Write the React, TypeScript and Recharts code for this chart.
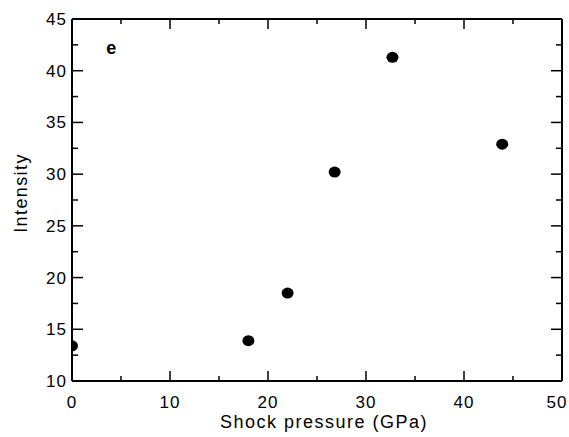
import React from "react";
import {
  ScatterChart,
  Scatter,
  XAxis,
  YAxis,
  ReferenceDot,
} from "recharts";

const pressure = [0, 18, 22, 26.8, 32.7, 43.9];
const intensity = [13.4, 13.9, 18.5, 30.2, 41.3, 32.9];
const xTicks = [0, 5, 10, 15, 20, 25, 30, 35, 40, 45, 50];
const yTicks = [10, 12.5, 15, 17.5, 20, 22.5, 25, 27.5, 30, 32.5, 35, 37.5, 40, 42.5, 45];
const panelLabel = "e";

const data = pressure.map((p, i) => ({ p, v: intensity[i] }));

const FONT = "'Liberation Sans', Arial, Helvetica, sans-serif";

// inward ticks, labels only on the major ones
const BottomTick = (props: any) => {
  const { x, y, payload } = props;
  const major = payload.value % 10 === 0;
  // the last label sits a bit left so it stays inside the frame
  const shift = payload.value === 50 ? -5 : 0;
  return (
    <g>
      <line x1={x} y1={y} x2={x} y2={y - (major ? 10 : 5)} stroke="#000" strokeWidth={1.5} />
      {major && (
        <text x={x + shift} y={y + 27} textAnchor="middle" fontSize={17} letterSpacing={1} fontFamily={FONT} fill="#000">
          {payload.value}
        </text>
      )}
    </g>
  );
};

const TopTick = (props: any) => {
  const { x, y, payload } = props;
  const major = payload.value % 10 === 0;
  return <line x1={x} y1={y} x2={x} y2={y + (major ? 10 : 5)} stroke="#000" strokeWidth={1.5} />;
};

const LeftTick = (props: any) => {
  const { x, y, payload } = props;
  const major = payload.value % 5 === 0;
  return (
    <g>
      <line x1={x} y1={y} x2={x + (major ? 11 : 6)} y2={y} stroke="#000" strokeWidth={1.5} />
      {major && (
        <text x={x - 5} y={y + 6} textAnchor="end" fontSize={17} letterSpacing={1} fontFamily={FONT} fill="#000">
          {payload.value}
        </text>
      )}
    </g>
  );
};

const RightTick = (props: any) => {
  const { x, y, payload } = props;
  const major = payload.value % 5 === 0;
  return <line x1={x} y1={y} x2={x - (major ? 11 : 6)} y2={y} stroke="#000" strokeWidth={1.5} />;
};

export default function App() {
  return (
    <div style={{ position: "absolute", left: 0, top: 0, background: "#fff" }}>
      <ScatterChart width={569} height={437} margin={{ top: 18, right: 6, bottom: 0, left: 0 }}>
        <XAxis
          type="number"
          dataKey="p"
          domain={[0, 50]}
          ticks={xTicks}
          interval={0}
          allowDataOverflow
          height={56}
          tickSize={0}
          tickMargin={0}
          tickLine={false}
          axisLine={{ stroke: "#000", strokeWidth: 2 }}
          tick={<BottomTick />}
          label={{
            content: ({ viewBox }: any) => (
              <text
                x={viewBox.x + viewBox.width / 2 + 7}
                y={viewBox.y + 47}
                textAnchor="middle"
                fontSize={18}
                letterSpacing={1.5}
                fontFamily={FONT}
                fill="#000"
              >
                Shock pressure (GPa)
              </text>
            ),
          }}
        />
        <XAxis
          xAxisId="top"
          orientation="top"
          type="number"
          dataKey="p"
          domain={[0, 50]}
          ticks={xTicks}
          interval={0}
          allowDataOverflow
          height={1}
          tickSize={0}
          tickMargin={0}
          tickLine={false}
          axisLine={{ stroke: "#000", strokeWidth: 2 }}
          tick={<TopTick />}
        />
        <YAxis
          type="number"
          dataKey="v"
          domain={[10, 45]}
          ticks={yTicks}
          interval={0}
          allowDataOverflow
          width={72}
          tickSize={0}
          tickMargin={0}
          tickLine={false}
          axisLine={{ stroke: "#000", strokeWidth: 2 }}
          tick={<LeftTick />}
          label={{
            content: ({ viewBox }: any) => {
              const cx = 21;
              const cy = viewBox.y + viewBox.height / 2 - 7;
              return (
                <text
                  x={cx}
                  y={cy}
                  transform={`rotate(-90 ${cx} ${cy})`}
                  textAnchor="middle"
                  dominantBaseline="central"
                  fontSize={18}
                  letterSpacing={1.4}
                  fontFamily={FONT}
                  fill="#000"
                >
                  Intensity
                </text>
              );
            },
          }}
        />
        <YAxis
          yAxisId="right"
          orientation="right"
          type="number"
          dataKey="v"
          domain={[10, 45]}
          ticks={yTicks}
          interval={0}
          allowDataOverflow
          width={1}
          tickSize={0}
          tickMargin={0}
          tickLine={false}
          axisLine={{ stroke: "#000", strokeWidth: 2 }}
          tick={<RightTick />}
        />
        {/* invisible copy so the top and right frame axes get drawn */}
        <Scatter
          data={data}
          xAxisId="top"
          yAxisId="right"
          isAnimationActive={false}
          shape={() => <g />}
        />
        <Scatter
          data={data}
          fill="#000"
          isAnimationActive={false}
          shape={(p: any) => <ellipse cx={p.cx} cy={p.cy} rx={6} ry={5.5} fill="#000" />}
        />
        <ReferenceDot
          x={4}
          y={42.2}
          r={0}
          ifOverflow="visible"
          label={{ value: panelLabel, position: "center", fontSize: 18, fontWeight: "bold", fill: "#000", fontFamily: FONT }}
        />
      </ScatterChart>
    </div>
  );
}
